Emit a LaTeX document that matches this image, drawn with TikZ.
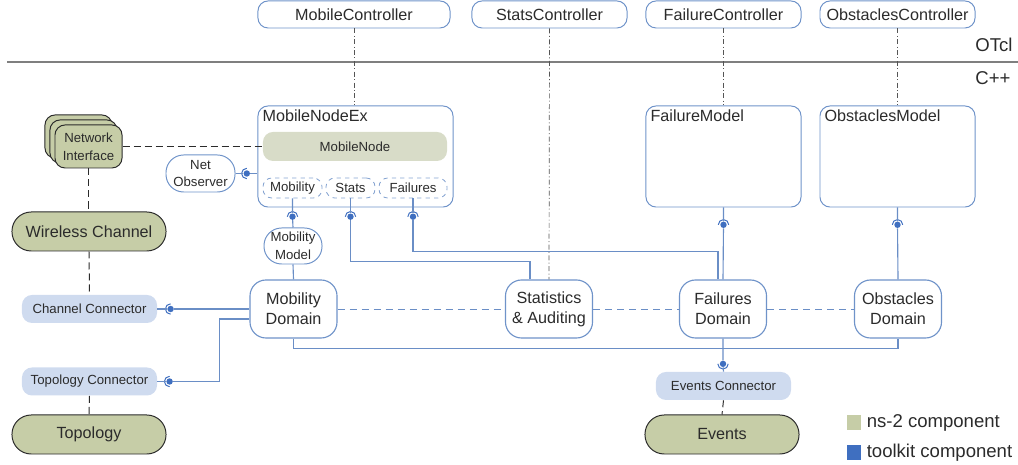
\documentclass[tikz,border=0pt]{standalone}
\usepackage{fontspec}
\setmainfont{Liberation Sans}
\usetikzlibrary{positioning, shadows}
\definecolor{edgeblue}{HTML}{6F93C9}
\definecolor{linkblue}{HTML}{6A8EC6}
\definecolor{ballblue}{HTML}{3F6FC0}
\definecolor{nsolive}{HTML}{C6CDA7}
\definecolor{nodegray}{HTML}{D8DCC8}
\definecolor{connblue}{HTML}{CFDBEF}
\definecolor{inkgray}{HTML}{2B2B2B}
\definecolor{rulegray}{HTML}{7F7F7F}

\begin{document}
\begin{tikzpicture}[x=0.025cm, y=0.025cm,
      every node/.style={text=inkgray},
      big/.style={font=\fontsize{11.5}{14}\selectfont},
      small/.style={font=\fontsize{9.4}{12.5}\selectfont},
      key/.style={font=\fontsize{13.2}{15}\selectfont},
      ctl/.style={draw=edgeblue, line width=0.7pt, rounded corners=2.5mm, minimum width=38.75mm, minimum height=6.75mm, inner sep=0, big},
      model/.style={draw=edgeblue, line width=0.7pt, rounded corners=2.5mm, minimum width=38.75mm, minimum height=25.25mm, inner sep=0},
      modlab/.style={anchor=north west, inner xsep=1.2mm, inner ysep=1mm, big},
      obs/.style={draw=edgeblue, line width=0.7pt, rounded corners=4.4mm, align=center, inner sep=0, small},
      dom/.style={draw=edgeblue, line width=0.8pt, fill=white, rounded corners=4mm, minimum width=21.75mm, minimum height=14.5mm, align=center, inner sep=0, big},
      part/.style={draw=edgeblue!85, dashed, line width=0.6pt, rounded corners=2.2mm, minimum height=5mm, inner sep=0, small},
      ns/.style={draw=inkgray, line width=0.7pt, fill=nsolive, rounded corners=4.8mm, minimum width=38.5mm, minimum height=9.75mm, big},
      conn/.style={fill=connblue, rounded corners=2.5mm, minimum width=33.75mm, minimum height=7mm, small},
      ball/.style={circle, fill=ballblue, inner sep=0, minimum size=1.6mm},
      link/.style={draw=linkblue, line width=0.8pt},
      tie/.style={draw=inkgray, line width=0.7pt, dash pattern=on 1.75mm off 1mm},
      bind/.style={draw=inkgray!80, line width=0.5pt, dash pattern=on 1.25mm off 0.6mm on 0.25mm off 0.6mm},
      socket/.pic={\draw[ballblue, line width=0.7pt] (90:1.3mm) arc (90:270:1.3mm);}
    ]
    \useasboundingbox (0,0) rectangle (1018,465);

    % OTcl layer
    \node[ctl, minimum width=48mm] (mctl) at (354,450.5) {MobileController};
    \node[ctl] (sctl) at (549.5,450.5) {StatsController};
    \node[ctl] (fctl) at (723.5,450.5) {FailureController};
    \node[ctl] (octl) at (897.5,450.5) {ObstaclesController};
    \draw[rulegray, line width=1.2pt] (7,403) -- (1018,403);
    \node[key] (otcl) at (994,420) {OTcl};
    \node[key] (cpp) at (993,387) {C++};

    % C++ layer
    \node[model, minimum width=48.75mm, label={[modlab]north west:MobileNodeEx}] (mne) at (355.5,308.5) {};
    \node[fill=nodegray, rounded corners=2.5mm, minimum width=46mm, minimum height=7.25mm, small] (mn) at (355,318.5) {MobileNode};
    \node[part, minimum width=14.75mm] (mob) at (292.5,277) {Mobility};
    \node[part, minimum width=12.25mm] (sts) at (350.5,277) {Stats};
    \node[part, minimum width=17mm] (fls) at (413,277) {Failures};
    \node[model, label={[modlab]north west:FailureModel}] (fmod) at (723.5,308.5) {};
    \node[model, label={[modlab]north west:ObstaclesModel}] (omod) at (897.5,308.5) {};

    \node[obs, minimum width=17.25mm, minimum height=9.25mm] (nobs) at (200.5,291.5) {Net\\Observer};
    \node[obs, minimum width=14.5mm, minimum height=9mm] (mmod) at (293,219) {Mobility\\Model};
    \node[fill=nsolive, draw=inkgray, line width=0.7pt, rounded corners=2.5mm, minimum width=16.75mm, minimum height=10.75mm,
          align=center, inner sep=0, small, double copy shadow={shadow xshift=-1.25mm, shadow yshift=1.25mm}] (ni) at (88.5,318.5) {Network\\Interface};

    \node[ns] (wch) at (89,233.5) {Wireless Channel};
    \node[conn] (chc) at (89.5,156) {Channel Connector};
    \node[conn] (tpc) at (89.5,83.5) {Topology Connector};
    \node[ns] (tpl) at (89,30.5) {Topology};

    \node[dom] (mdom) at (293.5,156) {Mobility\\Domain};
    \node[dom] (stat) at (549,156) {Statistics\\\& Auditing};
    \node[dom] (fdom) at (723,156) {Failures\\Domain};
    \node[dom] (odom) at (898,156) {Obstacles\\Domain};

    \node[conn] (evc) at (723.5,79) {Events Connector};
    \node[ns] (evt) at (722,30.5) {Events};

    % ball and socket joints
    \node[ball, right=1.95mm of nobs] (bnobs) {};
    \node[ball, right=2.45mm of chc] (bchc) {};
    \node[ball, right=2.2mm of tpc] (btpc) {};
    \node[ball, below=3.7mm of mob] (bmob) {};
    \node[ball, below=3.7mm of sts] (bsts) {};
    \node[ball, below=3.7mm of fls] (bfls) {};
    \node[ball, below=3.45mm of fmod] (bfmod) {};
    \node[ball, below=3.45mm of omod] (bomod) {};
    \node[ball, below=5.45mm of fdom] (bevc) {};
    \pic at (bnobs) {socket};
    \pic at (bchc) {socket};
    \pic at (btpc) {socket};
    \foreach \b in {bmob, bsts, bfls, bfmod, bomod}
      \pic[rotate=-90] at (\b) {socket};
    \pic[rotate=90] at (bevc) {socket};

    % bindings between the layers
    \draw[bind] (mctl.south) -- (mctl.south |- mne.north);
    \draw[bind] (sctl.south) -- (stat.north);
    \draw[bind] (fctl.south) -- (fmod.north);
    \draw[bind] (octl.south) -- (omod.north);

    \draw[tie] (ni.east) -- (mn.west);
    \draw[tie] (ni.south) -- (ni.south |- wch.north);
    \draw[tie] (wch.south) -- (chc.north);
    \draw[tie] (tpc.south) -- (tpl.north);
    \draw[tie] (evc.south) -- (evt.north);

    \draw[link] (nobs.east) -- (bnobs) -- (bnobs -| mne.west);
    \draw[link] (chc.east) -- (bchc) -- (bchc -| mdom.west);
    \draw[link] (tpc.east) -- (btpc) -| ([xshift=-7.5mm, yshift=-2.5mm]mdom.west) -- ([yshift=-2.5mm]mdom.west);
    \draw[link] (mob.south) -- (bmob) -- (mmod.north);
    \draw[link] (mmod.south) -- (mdom.north);
    \draw[link] (sts.south) -- (bsts) -- ++(0,-45) -| ([xshift=-4.75mm]stat.north);
    \draw[link] (fls.south) -- (bfls) -- ++(0,-35) -| ([xshift=-1.25mm]fdom.north);
    \draw[link] (fmod.south) -- (bfmod) -- (fdom.north);
    \draw[link] (omod.south) -- (bomod) -- (odom.north);
    \draw[link] (mdom.south) -- ++(0,-10) -| (odom.south);
    \draw[link] (fdom.south) -- (bevc) -- (evc.north);
    \draw[link, line width=0.7pt, dash pattern=on 1.75mm off 1.25mm] (mdom.east) -- (stat.west) (stat.east) -- (fdom.west) (fdom.east) -- (odom.west);

    % legend
    \node[fill=nsolive, minimum size=3.6mm, inner sep=0] (keyns) at (854,42.5) {};
    \node[key, right=1.25mm of keyns, inner sep=0] (keynslab) {ns-2 component};
    \node[fill=ballblue, minimum size=3.6mm, inner sep=0] (keytk) at (854,12.5) {};
    \node[key, right=1.25mm of keytk, inner sep=0] (keytklab) {toolkit component};
  \end{tikzpicture}
\end{document}
